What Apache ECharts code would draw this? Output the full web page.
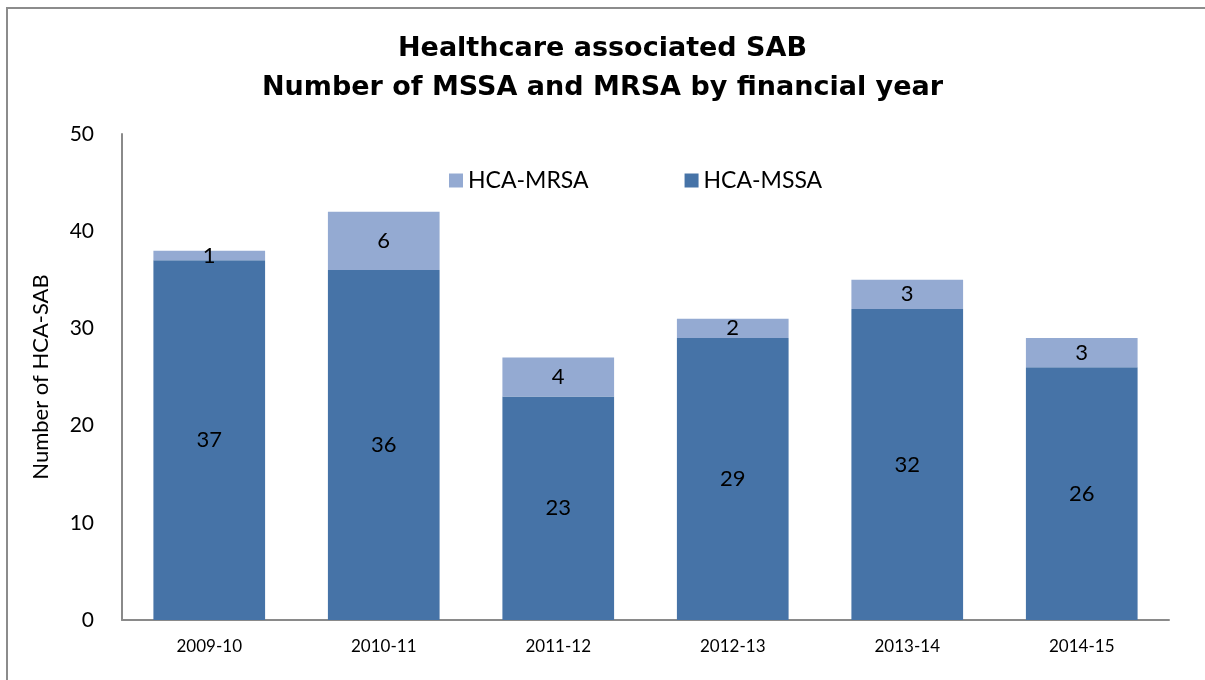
<!DOCTYPE html>
<html>
<head>
<meta charset="utf-8">
<script src="https://cdn.jsdelivr.net/npm/echarts@6/dist/echarts.min.js"></script>
<style>
    html, body { margin: 0; padding: 0; background: #fff; }
    #main { width: 1205px; height: 680px; }
</style>
</head>
<body>
<div id="main"></div>
<script>
// financial years
var years = ['2009-10', '2010-11', '2011-12', '2012-13', '2013-14', '2014-15'];
// HCA-MSSA (bottom of stack)
var mssa = [37, 36, 23, 29, 32, 26];
// HCA-MRSA (top of stack)
var mrsa = [1, 6, 4, 2, 3, 3];

var font = 'Lato, "DejaVu Sans", sans-serif';

var option = {
    backgroundColor: '#fff',
    animation: false,
    title: {
        text: 'Healthcare associated SAB\nNumber of MSSA and MRSA by financial year',
        left: 'center',
        top: 24,
        textStyle: {
            fontFamily: '"DejaVu Sans", sans-serif',
            fontWeight: 'bold',
            fontSize: 27,
            lineHeight: 39,
            color: '#000'
        }
    },
    legend: {
        data: ['HCA-MRSA', 'HCA-MSSA'],
        top: 164,
        left: 444,
        itemWidth: 14,
        itemHeight: 14,
        itemGap: 96,
        icon: 'rect',
        textStyle: { fontFamily: font, fontSize: 23, color: '#000' }
    },
    graphic: [{
        type: 'rect',
        shape: { x: 7, y: 8, width: 1300, height: 800 },
        style: { fill: 'none', stroke: '#8c8c8c', lineWidth: 2 },
        silent: true
    }],
    grid: { left: 122, right: 36, top: 134, bottom: 60 },
    xAxis: {
        type: 'category',
        data: years,
        axisLine: { lineStyle: { color: '#8a8a8a', width: 2 } },
        axisTick: { show: false },
        axisLabel: { fontFamily: font, fontSize: 17, color: '#000', margin: 18 }
    },
    yAxis: {
        type: 'value',
        min: 0,
        max: 50,
        interval: 10,
        name: 'Number of HCA-SAB',
        nameLocation: 'middle',
        nameGap: 70,
        nameTextStyle: { fontFamily: font, fontSize: 22, color: '#000' },
        axisLine: { show: true, lineStyle: { color: '#8a8a8a', width: 2 } },
        axisTick: { show: false },
        splitLine: { show: false },
        axisLabel: { fontFamily: font, fontSize: 21, color: '#000', margin: 28 }
    },
    series: [{
        name: 'HCA-MSSA',
        type: 'bar',
        stack: 'sab',
        data: mssa,
        barWidth: '64%',
        itemStyle: { color: '#4673a7' },
        label: {
            show: true,
            position: 'inside',
            fontFamily: font,
            fontSize: 22,
            color: '#000'
        }
    }, {
        name: 'HCA-MRSA',
        type: 'bar',
        stack: 'sab',
        data: mrsa,
        barWidth: '64%',
        itemStyle: { color: '#94aad2' },
        label: {
            show: true,
            position: 'inside',
            fontFamily: font,
            fontSize: 22,
            color: '#000'
        }
    }]
};

var myChart = echarts.init(document.getElementById('main'));
myChart.setOption(option);
</script>
</body>
</html>
